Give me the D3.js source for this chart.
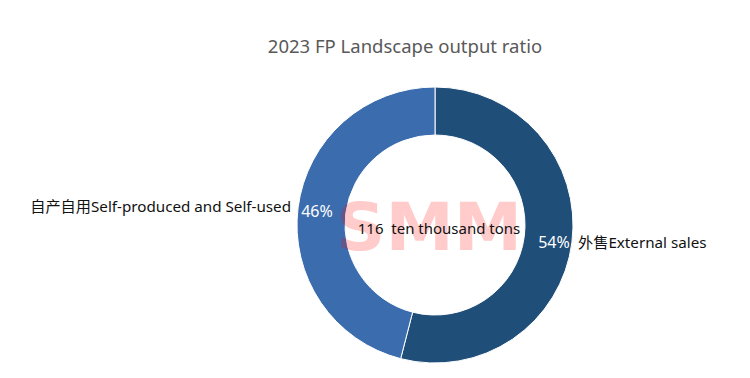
<!DOCTYPE html>
<html>
<head>
<meta charset="utf-8">
<script src="https://cdn.jsdelivr.net/npm/d3@7"></script>
<style>
  body { margin: 0; background: #fff; }
  text { font-family: "Noto Sans", "Noto Sans CJK SC", sans-serif; }
</style>
</head>
<body>
<div id="chart"></div>
<script>
// data
var categories = ['外售External sales', '自产自用Self-produced and Self-used'];
var shares = [54, 46];
var colors = ['#1f4e79', '#3a6cae'];
var totalLabel = '116  ten thousand tons';
var title = '2023 FP Landscape output ratio';

var svgwidth = 750;
var svgheight = 378;
var cx = 435, cy = 225;
var outerR = 138, innerR = 90;

var svg = d3.select('#chart')
            .append('svg')
            .attr('width', svgwidth)
            .attr('height', svgheight);

// title
svg.append('text')
    .attr('x', 405)
    .attr('y', 53)
    .attr('text-anchor', 'middle')
    .style('font-size', '18.5px')
    .style('fill', '#595959')
    .text(title);

var data = categories.map(function(c, i) {
    return { name: c, value: shares[i], color: colors[i] };
});

var pie = d3.pie().sort(null).value(d => d.value);
var arc = d3.arc().innerRadius(innerR).outerRadius(outerR);
var arcs = pie(data);

var g = svg.append('g')
            .attr('transform', `translate(${cx}, ${cy})`);

g.selectAll('path')
    .data(arcs)
    .join('path')
    .attr('d', arc)
    .attr('fill', d => d.data.color)
    .attr('stroke', '#fff')
    .attr('stroke-width', 1);

function isRight(d) {
    return Math.sin((d.startAngle + d.endAngle) / 2) > 0;
}

// percentage labels near the outer edge
g.selectAll('text.pct')
    .data(arcs)
    .join('text')
    .attr('class', 'pct')
    .attr('x', d => isRight(d) ? outerR - 19 : -(outerR - 20))
    .attr('y', d => isRight(d) ? 23 : -8)
    .attr('text-anchor', 'middle')
    .style('font-size', '16px')
    .style('fill', '#fff')
    .text(d => d.data.value + '%');

// category labels outside
g.selectAll('text.cat')
    .data(arcs)
    .join('text')
    .attr('class', 'cat')
    .attr('x', d => isRight(d) ? outerR + 5 : -(outerR + 6))
    .attr('y', d => isRight(d) ? 23 : -13)
    .attr('text-anchor', d => isRight(d) ? 'start' : 'end')
    .style('font-size', '15.2px')
    .style('fill', '#111')
    .text(d => d.data.name);

// watermark
g.append('text')
    .attr('x', -99)
    .attr('y', 25)
    .attr('textLength', 186)
    .attr('lengthAdjust', 'spacingAndGlyphs')
    .style('font-family', '"DejaVu Sans", sans-serif')
    .style('font-weight', 'bold')
    .style('font-size', '66px')
    .style('fill', '#ff0000')
    .style('opacity', 0.2)
    .text('SMM');

// center total
g.append('text')
    .attr('x', 4)
    .attr('y', 9)
    .attr('text-anchor', 'middle')
    .style('font-size', '15px')
    .style('fill', '#111')
    .style('white-space', 'pre')
    .text(totalLabel);
</script>
</body>
</html>
